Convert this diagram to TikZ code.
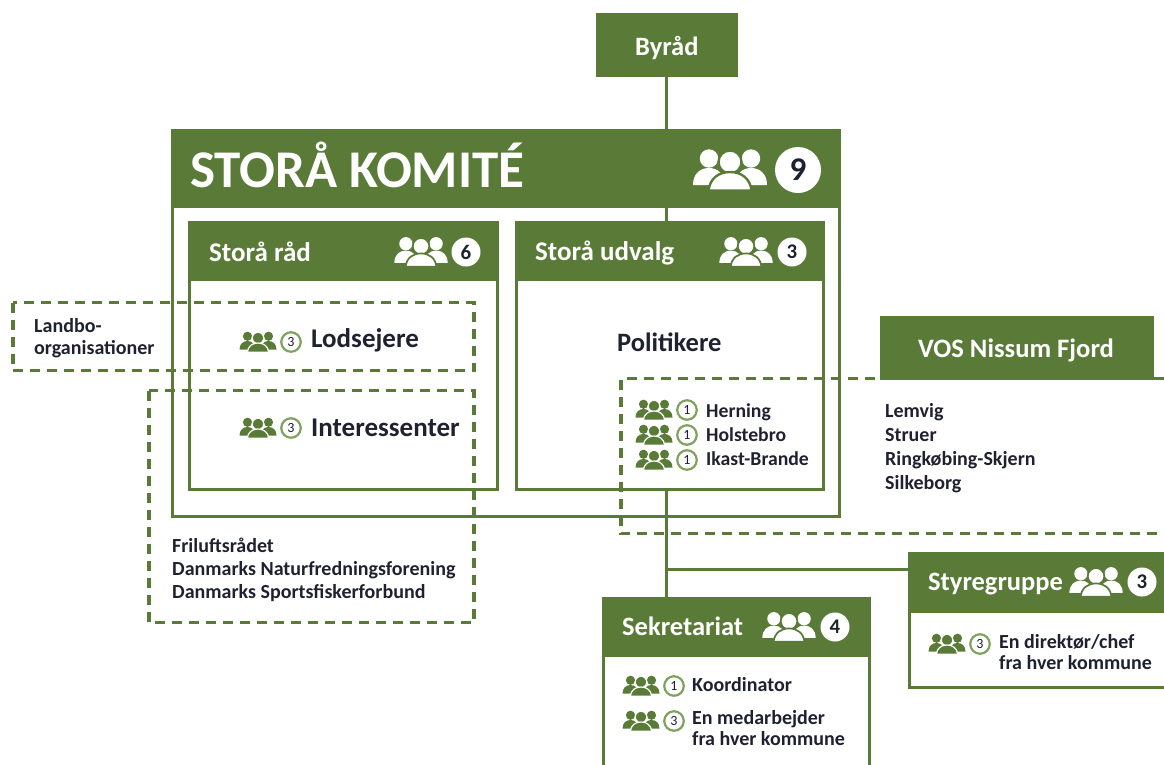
\documentclass[tikz,border=0pt]{standalone}
\usepackage{fontspec}
\setmainfont{Carlito}
\definecolor{gr}{HTML}{5A7B38}
\definecolor{ink}{HTML}{1E2230}
\definecolor{ringg}{HTML}{7FA25F}
\newcounter{bdg}
\tikzset{
 x=1pt,y=-1pt,
 hdr/.style={fill=gr,draw=gr,line width=0pt,minimum width=#1,anchor=north west,inner sep=0,outer sep=0},
 frame/.style={draw=gr,line width=3pt,anchor=north west,inner sep=0,outer sep=0,fill=none},
 dash box/.style={draw=gr,line width=3.5pt,dash pattern=on 10pt off 7pt},
 link/.style={draw=gr,line width=3pt},
 txt/.style={font=\bfseries\fontsize{#1}{#1}\selectfont,text=ink,inner sep=0,anchor=base west,align=left},
 wtxt/.style={font=\bfseries\fontsize{#1}{#1}\selectfont,text=white,inner sep=0,anchor=base west},
 pics/people/.style n args={3}{code={
   \begin{scope}[scale=#1]
   \fill[#2] (-21,-11.5) circle (9.2) (21,-11.5) circle (9.2);
   \fill[#2] (-37,15) .. controls (-37,4) and (-30,-2) .. (-21,-2) .. controls (-12,-2) and (-6,4) .. (-5,15) -- cycle;
   \fill[#2] (37,15) .. controls (37,4) and (30,-2) .. (21,-2) .. controls (12,-2) and (6,4) .. (5,15) -- cycle;
   \fill[#2,draw=#3,line width=#1*2.4pt] (0,-8) circle (11.5);
   \fill[#2,draw=#3,line width=#1*2.4pt] (-21.5,20.5) .. controls (-20,8) and (-11,2) .. (0,2) .. controls (11,2) and (20,8) .. (21.5,20.5) -- cycle;
   \end{scope}}},
}
% white icon with filled badge
\newcommand{\whead}[6]{% x y iconscale badge-x number badge-diameter
 \path (#1,#2) pic {people={#3}{white}{gr}};
 \stepcounter{bdg}
 \pgfmathsetmacro{\bfs}{#6*0.72}
 \node[circle,fill=white,inner sep=0,minimum size=#6*1pt,text=ink,font=\bfseries\fontsize{\bfs}{\bfs}\selectfont] (b\thebdg) at (#4,#2) {#5};}
% green icon with ring
\newcommand{\gitem}[3]{% x y number
 \path (#1,#2) pic {people={0.5}{gr}{white}};
 \stepcounter{bdg}
 \node[circle,draw=ringg,line width=2.2pt,fill=white,inner sep=0,minimum size=19.5pt,text=ink,font=\fontsize{14}{14}\selectfont] (b\thebdg) at (#1+33,#2) {#3};}
\begin{document}
\begin{tikzpicture}
\useasboundingbox (0,0) rectangle (1164,764);
\clip (0,0) rectangle (1164,764);
% boxes
\node[hdr=141.5pt,minimum height=63.5pt] (byrad) at (596,13) {};
\node[frame,minimum width=667pt,minimum height=386pt] (komite) at (172.5,130.5) {};
\node[hdr=669pt,minimum height=77pt] (komiteh) at (171,130) {};
\node[frame,minimum width=308pt,minimum height=267pt] (rad) at (189.5,222.5) {};
\node[hdr=310pt,minimum height=58pt] (radh) at (188,222) {};
\node[frame,minimum width=307pt,minimum height=267pt] (udv) at (516.5,222.5) {};
\node[hdr=309pt,minimum height=58pt] (udvh) at (515,222) {};
% dashed
\coordinate (d1a) at (13,302.5); \coordinate (d1b) at (474,370.5);
\draw[dash box] (d1a) rectangle (d1b);
\coordinate (d2a) at (149,390.5); \coordinate (d2b) at (474,622.5);
\draw[dash box] (d2a) rectangle (d2b);
\coordinate (d3a) at (1164,378.5); \coordinate (d3b) at (621,378.5); \coordinate (d3c) at (621,533.5); \coordinate (d3d) at (1164,533.5);
\draw[dash box] (d3a) -- (d3b) -- (d3c) -- (d3d);
\node[hdr=273pt,minimum height=63pt] (vos) at (880,316) {};
% connectors
\node[frame,minimum width=280pt,minimum height=134pt,fill=white] (sty) at (909,553.5) {};
\node[hdr=282pt,minimum height=59pt] (styh) at (908,553) {};
\node[frame,minimum width=266pt,minimum height=200pt,fill=white] (sek) at (603.5,598.5) {};
\node[hdr=268pt,minimum height=58pt] (sekh) at (602,598) {};
\coordinate (j1) at (666,569);
\coordinate (vx) at (666,0);
\draw[link] (byrad.south -| vx) -- (komiteh.north -| vx);
\draw[link] (komiteh.south -| vx) -- (udvh.north -| vx);
\draw[link] (udv.south -| vx) -- (sekh.north -| vx);
\draw[link] (j1) -- (j1 -| styh.west);
% header texts
\node[wtxt=26.5] (t1) at (635,55) {Byråd};
\node[wtxt=53] (t2) at (190,187) {STORÅ KOMITÉ};
\whead{730}{170}{1}{798}{9}{46}
\node[wtxt=27] (t3) at (209,261) {Storå råd};
\whead{421}{252}{0.72}{466}{6}{29}
\node[wtxt=27] (t4) at (535,260) {Storå udvalg};
\whead{746}{252}{0.72}{792}{3}{29}
\node[wtxt=26.6] (t5) at (918,357) {VOS Nissum Fjord};
\node[wtxt=26.5] (t6) at (928,590) {Styregruppe};
\whead{1096}{582}{0.72}{1142}{3}{29}
\node[wtxt=26.5] (t7) at (622,635) {Sekretariat};
\whead{789}{627}{0.72}{835}{4}{29}
% lists
\node[txt=20] (t8) at (34,332) {Landbo-};
\node[txt=20] (t9) at (34,354) {organisationer};
\gitem{258}{342}{3}
\node[txt=27] (t10) at (311,347.5) {Lodsejere};
\gitem{258}{428}{3}
\node[txt=27] (t11) at (311,436) {Interessenter};
\node[txt=26.5] (t12) at (617,351.5) {Politikere};
\gitem{654}{410}{1}
\node[txt=19.7] (t13) at (706,417.5) {Herning};
\gitem{654}{435}{1}
\node[txt=19.7] (t14) at (706,441) {Holstebro};
\gitem{654}{460}{1}
\node[txt=19.7] (t15) at (706,465) {Ikast-Brande};
\node[txt=20] (t16) at (885,417.5) {Lemvig};
\node[txt=20] (t17) at (885,441) {Struer};
\node[txt=20] (t18) at (885,465) {Ringkøbing-Skjern};
\node[txt=20] (t19) at (885,489) {Silkeborg};
\node[txt=20] (t20) at (172,552) {Friluftsrådet};
\node[txt=20] (t21) at (172,575) {Danmarks Naturfredningsforening};
\node[txt=20] (t22) at (172,598) {Danmarks Sportsfiskerforbund};
\gitem{947}{644}{3}
\node[txt=20] (t23) at (999,648) {En direktør/chef};
\node[txt=20] (t24) at (999,669) {fra hver kommune};
\gitem{641}{686}{1}
\node[txt=20] (t25) at (692,691) {Koordinator};
\gitem{641}{721}{3}
\node[txt=20] (t26) at (692,724) {En medarbejder};
\node[txt=20] (t27) at (692,745) {fra hver kommune};
\end{tikzpicture}
\end{document}
